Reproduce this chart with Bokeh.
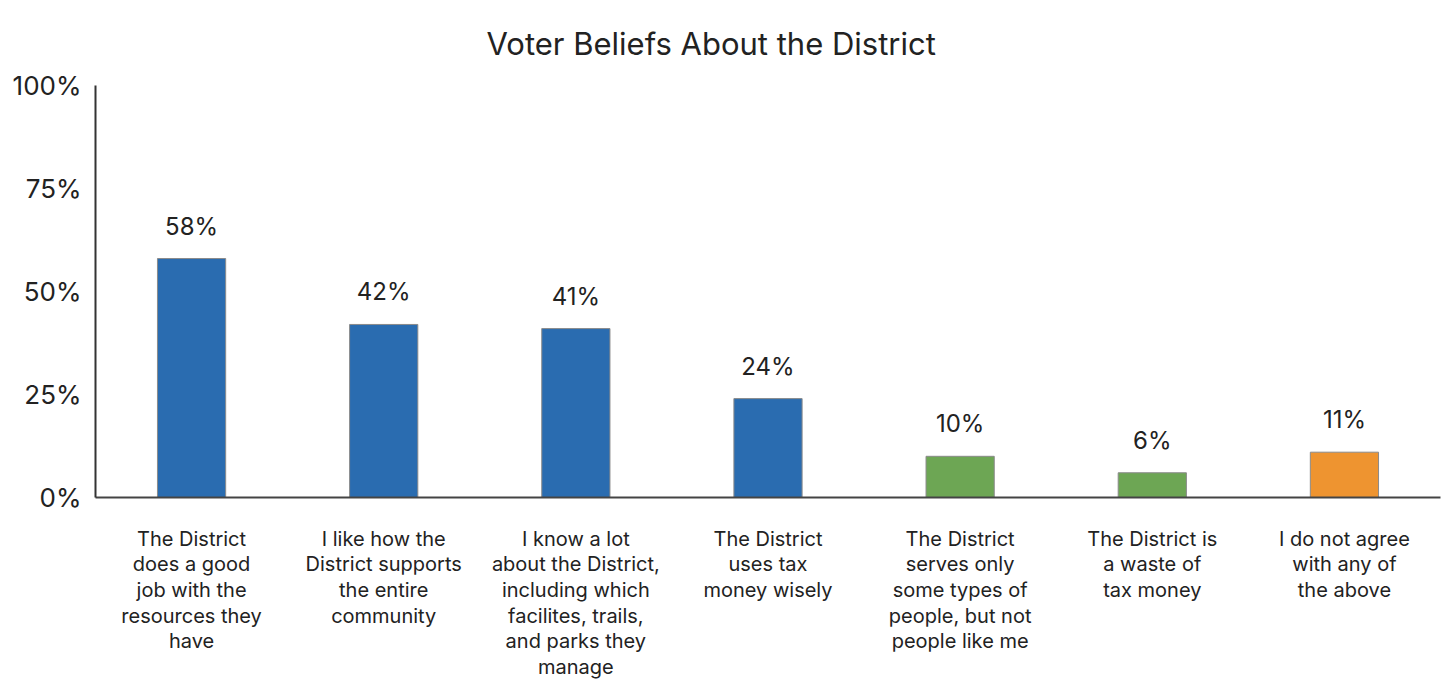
from bokeh.plotting import figure
from bokeh.models import FactorRange, Range1d, ColumnDataSource, FixedTicker
from bokeh.core.properties import value
from bokeh.embed import file_html
from bokeh.resources import INLINE

title_text = "Voter Beliefs About the District"
categories = [
    "The District\ndoes a good\njob with the\nresources they\nhave",
    "I like how the\nDistrict supports\nthe entire\ncommunity",
    "I know a lot\nabout the District,\nincluding which\nfacilites, trails,\nand parks they\nmanage",
    "The District\nuses tax\nmoney wisely",
    "The District\nserves only\nsome types of\npeople, but not\npeople like me",
    "The District is\na waste of\ntax money",
    "I do not agree\nwith any of\nthe above",
]
values = [58, 42, 41, 24, 10, 6, 11]
value_labels = ["58%", "42%", "41%", "24%", "10%", "6%", "11%"]
bar_colors = ["#2A6CB0", "#2A6CB0", "#2A6CB0", "#2A6CB0", "#6DA654", "#6DA654", "#EE9430"]
y_ticks = [0, 25, 50, 75, 100]
y_tick_labels = ["0%", "25%", "50%", "75%", "100%"]

FONT = "Inter"
TXT = "#222222"

src = ColumnDataSource(dict(cat=categories, val=values, lab=value_labels, col=bar_colors))

p = figure(
    width=1445, height=682,
    x_range=FactorRange(factors=categories),
    y_range=Range1d(0, 100),
    output_backend="svg", toolbar_location=None,
    min_border_left=95, min_border_right=5, min_border_top=85, min_border_bottom=185,
)
p.title.text = title_text
p.title.align = "left"
p.title.vertical_align = "top"
p.title.offset = 391
p.title.standoff = 44
p.title.text_font = FONT
p.title.text_font_size = "31px"
p.title.text_font_style = "normal"
p.title.text_color = TXT

p.vbar(x="cat", top="val", width=0.355, source=src, fill_color="col",
       line_color="#8a8a8a", line_width=1)
p.text(x="cat", y="val", text="lab", source=src, text_align="center",
       text_baseline="bottom", y_offset=-18, text_font=value(FONT),
       text_font_size="24px", text_color=TXT)

p.grid.visible = False
p.outline_line_color = None

p.yaxis.ticker = FixedTicker(ticks=y_ticks)
p.yaxis.major_label_overrides = {t: l for t, l in zip(y_ticks, y_tick_labels)}
p.yaxis.major_tick_line_color = None
p.yaxis.minor_tick_line_color = None
p.yaxis.axis_line_color = "#333333"
p.yaxis.axis_line_width = 2
p.yaxis.major_label_text_font = FONT
p.yaxis.major_label_text_font_size = "26px"
p.yaxis.major_label_text_color = TXT
p.yaxis.major_label_standoff = 8

p.xaxis.major_tick_line_color = None
p.xaxis.minor_tick_line_color = None
p.xaxis.axis_line_color = "#444444"
p.xaxis.axis_line_width = 2
p.xaxis.major_label_text_font = FONT
p.xaxis.major_label_text_font_size = "20px"
p.xaxis.major_label_text_color = TXT
p.xaxis.major_label_text_line_height = 1.07
p.xaxis.major_label_standoff = 23
p.xaxis.major_label_orientation = "horizontal"

open("out.html", "w").write(file_html(p, INLINE))
